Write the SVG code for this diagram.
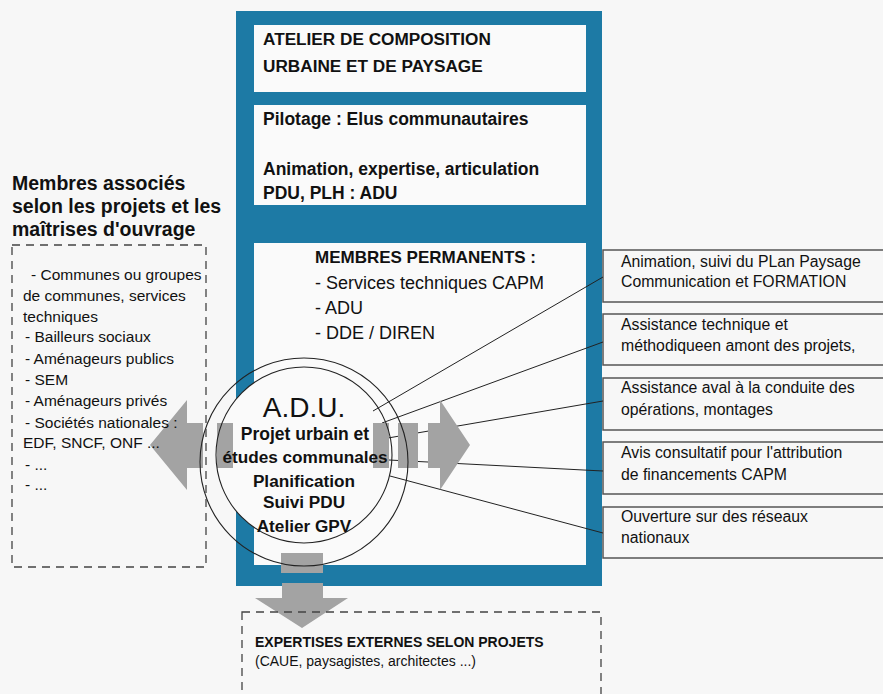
<svg xmlns="http://www.w3.org/2000/svg" width="883" height="694" viewBox="0 0 883 694">
<style>
.t{font-family:"Liberation Sans",Arial,sans-serif;fill:#111}
.b{font-weight:bold}
.box{fill:none;stroke:#555;stroke-width:1.5}
.dash{fill:none;stroke:#444;stroke-width:1.3;stroke-dasharray:8 6}
.con{stroke:#222;stroke-width:1;fill:none}
.arr{fill:#a3a3a3}
.panel{fill:#fafafa}
</style>
<rect x="0" y="0" width="883" height="694" fill="#f7f7f7"/>
<g id="frame">
<rect x="236" y="11" width="366" height="575" fill="#1d7aa5"/>
<rect class="panel" x="254" y="25" width="332" height="67"/>
<rect class="panel" x="254" y="105" width="332" height="100"/>
<rect class="panel" x="254" y="243" width="332" height="322"/>
</g>
<g id="title">
<text class="t b" font-size="17.2" x="263" y="45">ATELIER DE COMPOSITION</text>
<text class="t b" font-size="17.2" x="263" y="72">URBAINE ET DE PAYSAGE</text>
</g>
<g id="pilotage">
<text class="t b" font-size="17.5" x="263" y="125">Pilotage : Elus communautaires</text>
<text class="t b" font-size="17.5" x="263" y="175">Animation, expertise, articulation</text>
<text class="t b" font-size="17.5" x="263" y="199">PDU, PLH : ADU</text>
</g>
<g id="permanents">
<text class="t b" font-size="17" x="315" y="263">MEMBRES PERMANENTS :</text>
<text class="t" font-size="18" x="315" y="289">- Services techniques CAPM</text>
<text class="t" font-size="18" x="315" y="314">- ADU</text>
<text class="t" font-size="18" x="315" y="339">- DDE / DIREN</text>
</g>
<g id="right-boxes">
<g id="box1"><path class="box" d="M883 250H603V302H883"/>
<text class="t" font-size="15.8" x="621" y="267">Animation, suivi du PLan Paysage</text>
<text class="t" font-size="15.8" x="621" y="287">Communication et FORMATION</text></g>
<g id="box2"><path class="box" d="M883 314H603V365H883"/>
<text class="t" font-size="15.8" x="621" y="330">Assistance technique et</text>
<text class="t" font-size="15.8" x="621" y="351">méthodiqueen amont des projets,</text></g>
<g id="box3"><path class="box" d="M883 378H603V430H883"/>
<text class="t" font-size="15.8" x="621" y="393">Assistance aval à la conduite des</text>
<text class="t" font-size="15.8" x="621" y="415">opérations, montages</text></g>
<g id="box4"><path class="box" d="M883 442H603V494H883"/>
<text class="t" font-size="15.8" x="621" y="458">Avis consultatif pour l'attribution</text>
<text class="t" font-size="15.8" x="621" y="480">de financements CAPM</text></g>
<g id="box5"><path class="box" d="M883 507H603V558H883"/>
<text class="t" font-size="15.8" x="621" y="522">Ouverture sur des réseaux</text>
<text class="t" font-size="15.8" x="621" y="543">nationaux</text></g>
</g>
<circle cx="304" cy="455" r="88" fill="#fafafa"/>
<g id="connectors">
<line class="con" x1="373" y1="411" x2="603" y2="277"/>
<line class="con" x1="382" y1="423" x2="603" y2="342"/>
<line class="con" x1="388" y1="438" x2="603" y2="401"/>
<line class="con" x1="389" y1="460" x2="603" y2="471"/>
<line class="con" x1="390" y1="476" x2="603" y2="533"/>
</g>
<g id="arrows">
<polygon class="arr" points="150,445 187,400 187,423 203,423 203,468 187,468 187,490"/>
<rect class="arr" x="217" y="423" width="16" height="45"/>
<rect class="arr" x="373" y="423" width="16" height="45"/>
<rect class="arr" x="398" y="423" width="20" height="45"/>
<polygon class="arr" points="428,423 440,423 440,400 470,445 440,490 440,468 428,468"/>
<rect class="arr" x="281" y="553" width="42" height="20"/>
<polygon class="arr" points="282,583 323,583 323,598 348,598 302,628 255,598 282,598"/>
</g>
<g id="adu">
<circle cx="304" cy="455" r="88" fill="none" stroke="#222" stroke-width="1.1"/>
<circle cx="304" cy="462" r="104" fill="none" stroke="#222" stroke-width="1.1"/>
<text class="t" font-size="28" x="304" y="417" text-anchor="middle">A.D.U.</text>
<text class="t b" font-size="17.5" x="305" y="440" text-anchor="middle">Projet urbain et</text>
<text class="t b" font-size="17.2" x="305" y="463" text-anchor="middle">études communales</text>
<text class="t b" font-size="17.2" x="304" y="487" text-anchor="middle">Planification</text>
<text class="t b" font-size="17.2" x="304" y="508" text-anchor="middle">Suivi PDU</text>
<text class="t b" font-size="17.2" x="304" y="532" text-anchor="middle">Atelier GPV</text>
</g>
<g id="membres-associes">
<text class="t b" font-size="19.5" x="12" y="190">Membres associés</text>
<text class="t b" font-size="19.5" x="12" y="213">selon les projets et les</text>
<text class="t b" font-size="19.5" x="12" y="236">maîtrises d'ouvrage</text>
<rect class="dash" x="12" y="245" width="194" height="322"/>
<text class="t" font-size="15.5" x="31" y="280">- Communes ou groupes</text>
<text class="t" font-size="15.5" x="23" y="301">de communes, services</text>
<text class="t" font-size="15.5" x="23" y="322">techniques</text>
<text class="t" font-size="15.5" x="25" y="342">- Bailleurs sociaux</text>
<text class="t" font-size="15.5" x="25" y="364">- Aménageurs publics</text>
<text class="t" font-size="15.5" x="25" y="385">- SEM</text>
<text class="t" font-size="15.5" x="25" y="406">- Aménageurs privés</text>
<text class="t" font-size="15.5" x="25" y="428">- Sociétés nationales :</text>
<text class="t" font-size="15.5" x="23" y="448">EDF, SNCF, ONF ...</text>
<text class="t" font-size="15.5" x="25" y="470">- ...</text>
<text class="t" font-size="15.5" x="25" y="490">- ...</text>
</g>
<g id="expertises">
<rect class="dash" x="242" y="612" width="359" height="100"/>
<text class="t b" font-size="14" x="255" y="647">EXPERTISES EXTERNES SELON PROJETS</text>
<text class="t" font-size="14" x="255" y="666">(CAUE, paysagistes, architectes ...)</text>
</g>
</svg>
